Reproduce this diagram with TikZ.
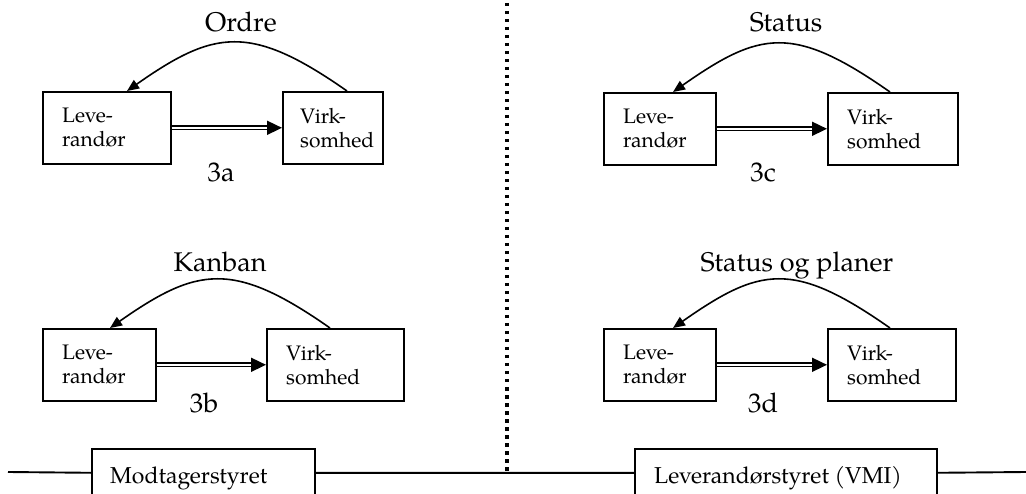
\documentclass[tikz,border=0pt]{standalone}
\usepackage{fontspec}
\setmainfont{texgyrepagella-regular.otf}
\usetikzlibrary{arrows.meta}

\begin{document}
\begin{tikzpicture}
  [x=1pt,y=-1pt,
   box/.style={draw,line width=1.6pt,minimum height=72pt,inner sep=0pt,anchor=north west},
   boxtext/.style={align=left,inner sep=0pt,anchor=west,font=\fontsize{21}{24}\selectfont},
   head/.style={inner sep=0pt,anchor=base,font=\fontsize{27}{32}\selectfont},
   bartext/.style={inner sep=0pt,anchor=base west,font=\fontsize{23}{27}\selectfont},
   flow/.style={double,double distance=1.6pt,line width=1.7pt,-{Triangle[length=15pt,width=14pt]}},
   back/.style={line width=1.6pt,-{Triangle[length=12pt,width=10pt]}}]
  \useasboundingbox (0,0) rectangle (1026,494);
  % 3a
  \node[box,minimum width=128pt] (lev3a) at (42,91) {};
  \node[box,minimum width=100pt] (virk3a) at (282,91) {};
  \node[boxtext] (t-lev3a) at ([xshift=20]lev3a.west) {Leve-\\randør};
  \node[boxtext] (t-virk3a) at ([xshift=18]virk3a.west) {Virk-\\somhed};
  \node[head] (h3a) at (241,32) {Ordre};
  \node[head] (n3a) at (221,182) {3a};
  % 3b
  \node[box,minimum width=113pt] (lev3b) at (42,328) {};
  \node[box,minimum width=137pt] (virk3b) at (266,328) {};
  \node[boxtext] (t-lev3b) at ([xshift=20]lev3b.west) {Leve-\\randør};
  \node[boxtext] (t-virk3b) at ([xshift=20]virk3b.west) {Virk-\\somhed};
  \node[head] (h3b) at (220,272) {Kanban};
  \node[head] (n3b) at (204,413) {3b};
  % 3c
  \node[box,minimum width=112pt] (lev3c) at (603,92) {};
  \node[box,minimum width=130pt] (virk3c) at (827,92) {};
  \node[boxtext] (t-lev3c) at ([xshift=20]lev3c.west) {Leve-\\randør};
  \node[boxtext] (t-virk3c) at ([xshift=20]virk3c.west) {Virk-\\somhed};
  \node[head] (h3c) at (786,32) {Status};
  \node[head] (n3c) at (763,182) {3c};
  % 3d
  \node[box,minimum width=112pt] (lev3d) at (603,328) {};
  \node[box,minimum width=128pt] (virk3d) at (827,328) {};
  \node[boxtext] (t-lev3d) at ([xshift=20]lev3d.west) {Leve-\\randør};
  \node[boxtext] (t-virk3d) at ([xshift=20]virk3d.west) {Virk-\\somhed};
  \node[head] (h3d) at (797,272) {Status og planer};
  \node[head] (n3d) at (763,413) {3d};
  \foreach \g/\s/\e in {a/65/85,b/64/68,c/63/70,d/63/70} {
    \draw[flow] (lev3\g) -- (virk3\g);
    \draw[back] ([xshift=\s]virk3\g.north west) .. controls +(-97,-68) and +(87,-61) .. ([xshift=\e]lev3\g.north west);
  }
  % bottom bar
  \node[box,minimum width=223pt,minimum height=48pt] (modt) at (91,448) {};
  \node[box,minimum width=302pt,minimum height=48pt] (vmi) at (634,448) {};
  \node[bartext] (t-modt) at (110,483) {Modtagerstyret};
  \node[bartext] (t-vmi) at (654,483) {Leverandørstyret (VMI)};
  \coordinate (barL) at (8,472);
  \coordinate (barR) at (1026,472);
  \coordinate (divtop) at (507,3);
  \coordinate (divbot) at (507,472);
  \draw[line width=1.9pt] (barL) -- (modt.west) (modt.east) -- (vmi.west) (vmi.east) -- (barR);
  \draw[line width=3.5pt,dash pattern=on 3.5pt off 4.5pt] (divtop) -- (divbot);
\end{tikzpicture}
\end{document}
